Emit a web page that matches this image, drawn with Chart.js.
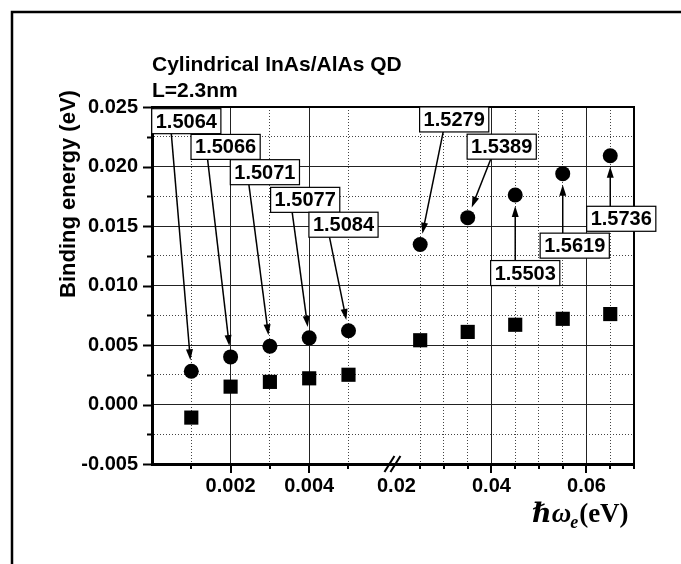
<!DOCTYPE html>
<html>
<head>
<meta charset="utf-8">
<script src="https://cdn.jsdelivr.net/npm/chart.js@4.4.0/dist/chart.umd.min.js"></script>
<style>
html, body { margin: 0; padding: 0; background: #fff; }
#wrap { width: 681px; height: 564px; }
</style>
</head>
<body>
<div id="wrap"><canvas id="chart" width="681" height="564"></canvas></div>
<script>
// hw_e (eV) - the axis is broken between 0.005 and 0.02
var omegaE = [0.001, 0.002, 0.003, 0.004, 0.005, 0.025, 0.035, 0.045, 0.055, 0.065];
// binding energy (eV)
var bindCircle = [0.0028, 0.0040, 0.0049, 0.0056, 0.0062, 0.01345, 0.0157, 0.0176, 0.0194, 0.0209];
var bindSquare = [-0.0011, 0.0015, 0.0019, 0.0022, 0.0025, 0.0054, 0.0061, 0.0067, 0.0072, 0.0076];
// values written in the boxes, one per circle
var pointLabels = ['1.5064', '1.5066', '1.5071', '1.5077', '1.5084', '1.5279', '1.5389', '1.5503', '1.5619', '1.5736'];

var xTickValues = [0.001, 0.002, 0.003, 0.004, 0.005, 0.02, 0.025, 0.03, 0.035, 0.04, 0.045, 0.05, 0.055, 0.06, 0.065, 0.07];
var xTickText = ['', '0.002', '', '0.004', '', '0.02', '', '', '', '0.04', '', '', '', '0.06', '', ''];
var yTickValues = [-0.005, -0.0025, 0, 0.0025, 0.005, 0.0075, 0.01, 0.0125, 0.015, 0.0175, 0.02, 0.0225, 0.025];
var yTickText = ['-0.005', '', '0.000', '', '0.005', '', '0.010', '', '0.015', '', '0.020', '', '0.025'];

// box placement relative to its circle (px): [dx, dy, arrow tail dx from box centre]
var labelOffsets = [[-5, -250, -15], [-5, -210, -18], [-5, -174, -16], [-4, -138, -13], [-5, -106, -14],
                    [34, -125, -11], [34, -71, -11], [10, 78, -10], [12, 72, -12], [11, 63, -11]];

// broken axis: left part 0..0.006 is stretched, right part starts at 0.02
var splitU = 6.22, rightScale = 120.9;
function toU(v) {
  return v < 0.01 ? v * 1000 : splitU + (v - 0.02) * rightScale;
}

var circlePts = omegaE.map(function (v, i) { return { x: toU(v), y: bindCircle[i] }; });
var squarePts = omegaE.map(function (v, i) { return { x: toU(v), y: bindSquare[i] }; });

var sansBold = '"Liberation Sans", Arial, sans-serif';

function xKind(i) {
  var v = xTickValues[i];
  if (v === 0.02) return 'none';
  if (v === 0.07) return 'end';
  return xTickText[i] ? 'major' : 'minor';
}
function yKind(i) {
  return yTickText[i] ? 'major' : 'minor';
}

function drawArrow(ctx, x1, y1, x2, y2) {
  var a = Math.atan2(y2 - y1, x2 - x1);
  var c = Math.cos(a), s = Math.sin(a);
  var head = 11, half = 3.5;
  ctx.beginPath();
  ctx.moveTo(x1, y1);
  ctx.lineTo(x2 - c * head * 0.7, y2 - s * head * 0.7);
  ctx.stroke();
  ctx.beginPath();
  ctx.moveTo(x2, y2);
  ctx.lineTo(x2 - head * c + half * s, y2 - head * s - half * c);
  ctx.lineTo(x2 - head * c - half * s, y2 - head * s + half * c);
  ctx.closePath();
  ctx.fill();
}

var overlay = {
  id: 'overlay',
  afterDraw: function (chart) {
    var ctx = chart.ctx, area = chart.chartArea;
    var xs = chart.scales.x, ys = chart.scales.y;
    ctx.save();
    ctx.strokeStyle = '#000';
    ctx.fillStyle = '#000';

    // outer frame (runs off the right and bottom edges)
    ctx.lineWidth = 2.5;
    ctx.strokeRect(12, 12, 720, 620);

    // top and right border of plot
    ctx.lineWidth = 2;
    ctx.beginPath();
    ctx.moveTo(area.left, area.top);
    ctx.lineTo(area.right, area.top);
    ctx.lineTo(area.right, area.bottom);
    ctx.stroke();

    // tick marks
    ctx.lineWidth = 2;
    yTickValues.forEach(function (v, i) {
      var py = Math.round(ys.getPixelForValue(v)) + 0.5;
      var len = yKind(i) === 'major' ? 9 : 5;
      ctx.beginPath();
      ctx.moveTo(area.left - len, py);
      ctx.lineTo(area.left, py);
      ctx.stroke();
    });
    xTickValues.forEach(function (v, i) {
      var k = xKind(i);
      if (k === 'none') return;
      var px = Math.round(xs.getPixelForValue(toU(v)));
      var len = k === 'major' ? 9 : 5;
      ctx.beginPath();
      ctx.moveTo(px, area.bottom);
      ctx.lineTo(px, area.bottom + len);
      ctx.stroke();
    });

    // axis break
    var bx = xs.getPixelForValue(splitU) - 4;
    ctx.lineWidth = 2;
    [-3, 3].forEach(function (o) {
      ctx.beginPath();
      ctx.moveTo(bx + o - 5, area.bottom + 8);
      ctx.lineTo(bx + o + 5, area.bottom - 8);
      ctx.stroke();
    });

    // boxed labels with arrows
    ctx.font = 'bold 20px ' + sansBold;
    ctx.textAlign = 'center';
    ctx.textBaseline = 'middle';
    circlePts.forEach(function (p, i) {
      var cx = xs.getPixelForValue(p.x), cy = ys.getPixelForValue(p.y);
      var off = labelOffsets[i];
      var bxC = cx + off[0], byC = cy + off[1];
      var w = ctx.measureText(pointLabels[i]).width + 8, h = 25;
      var tx = bxC + off[2];
      var ty = off[1] < 0 ? byC + h / 2 : byC - h / 2;
      var d = Math.hypot(cx - tx, cy - ty);
      var tipX = cx - (cx - tx) / d * 11, tipY = cy - (cy - ty) / d * 11;
      ctx.lineWidth = 1.5;
      drawArrow(ctx, tx, ty, tipX, tipY);
      ctx.fillStyle = '#fff';
      ctx.fillRect(bxC - w / 2, byC - h / 2, w, h);
      ctx.lineWidth = 1.2;
      ctx.strokeRect(bxC - w / 2, byC - h / 2, w, h);
      ctx.fillStyle = '#000';
      ctx.fillText(pointLabels[i], bxC, byC + 1);
    });

    // title
    ctx.textAlign = 'left';
    ctx.textBaseline = 'alphabetic';
    ctx.font = 'bold 21px ' + sansBold;
    ctx.fillText('Cylindrical InAs/AlAs QD', 152, 71);
    ctx.fillText('L=2.3nm', 152, 97);

    // y axis title
    ctx.save();
    ctx.translate(75, 194);
    ctx.rotate(-Math.PI / 2);
    ctx.textAlign = 'center';
    ctx.font = 'bold 22px ' + sansBold;
    ctx.fillText('Binding energy (eV)', 0, 0);
    ctx.restore();

    // x axis title: hbar omega_e (eV)
    var serif = '"Liberation Serif", "DejaVu Serif", serif';
    var x0 = 532, base = 522;
    ctx.font = 'italic bold 27px ' + serif;
    ctx.fillText('\u210F\u03C9', x0, base);
    x0 += ctx.measureText('\u210F\u03C9').width - 1;
    ctx.font = 'italic bold 18px ' + serif;
    ctx.fillText('e', x0, base + 6);
    x0 += ctx.measureText('e').width + 1;
    ctx.font = 'bold 27px ' + serif;
    ctx.fillText('(eV)', x0, base);

    ctx.restore();
  }
};

new Chart(document.getElementById('chart'), {
  type: 'scatter',
  data: {
    datasets: [{
      data: circlePts,
      pointStyle: 'circle',
      pointRadius: 7.5,
      backgroundColor: '#000',
      borderColor: '#000',
      borderWidth: 0
    }, {
      data: squarePts,
      pointStyle: 'rect',
      pointRadius: 10,
      backgroundColor: '#000',
      borderColor: '#000',
      borderWidth: 0
    }]
  },
  options: {
    responsive: false,
    animation: false,
    layout: { padding: { left: 0, right: 47, top: 107, bottom: 0 } },
    plugins: {
      legend: { display: false },
      tooltip: { enabled: false }
    },
    scales: {
      x: {
        type: 'linear',
        min: 0,
        max: toU(0.07),
        afterFit: function (s) { s.height = 100; },
        afterBuildTicks: function (s) {
          s.ticks = xTickValues.map(function (v) { return { value: toU(v) }; });
        },
        ticks: {
          autoSkip: false,
          maxRotation: 0,
          padding: 10,
          color: '#000',
          font: { family: sansBold, size: 20, weight: 'bold' },
          callback: function (val, i) { return xTickText[i]; }
        },
        grid: {
          drawTicks: false,
          lineWidth: 1,
          color: function (c) {
            var k = xKind(c.index);
            if (k === 'none' || k === 'end') return 'rgba(0,0,0,0)';
            return k === 'major' ? '#222' : '#444';
          }
        },
        border: {
          color: '#000',
          width: 3,
          dash: function (c) {
            if (!c.tick) return [];
            return xKind(c.index) === 'minor' ? [1, 2] : [];
          }
        }
      },
      y: {
        type: 'linear',
        min: -0.005,
        max: 0.025,
        afterFit: function (s) { s.width = 152; },
        afterBuildTicks: function (s) {
          s.ticks = yTickValues.map(function (v) { return { value: v }; });
        },
        ticks: {
          autoSkip: false,
          padding: 14,
          color: '#000',
          font: { family: sansBold, size: 20, weight: 'bold' },
          callback: function (val, i) { return yTickText[i]; }
        },
        grid: {
          drawTicks: false,
          lineWidth: 1,
          color: function (c) {
            return yKind(c.index) === 'major' ? '#222' : '#444';
          }
        },
        border: {
          color: '#000',
          width: 3,
          dash: function (c) {
            if (!c.tick) return [];
            return yKind(c.index) === 'minor' ? [1, 2] : [];
          }
        }
      }
    }
  },
  plugins: [overlay]
});
</script>
</body>
</html>
